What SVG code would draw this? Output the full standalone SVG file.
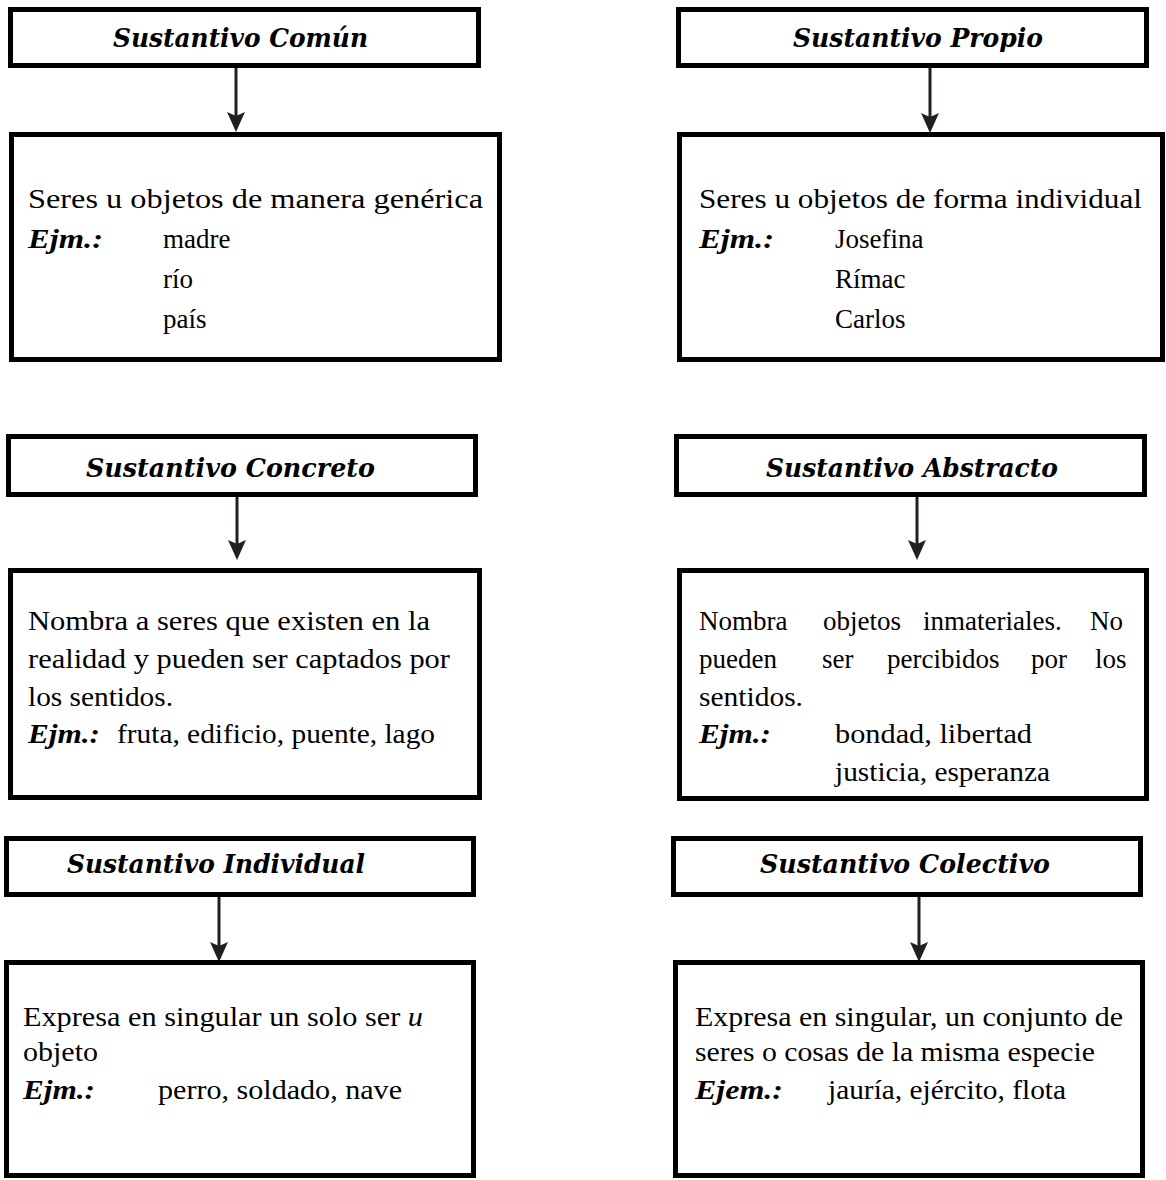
<svg xmlns="http://www.w3.org/2000/svg" width="1166" height="1180" viewBox="0 0 1166 1180">
<style>
.box{fill:#fff;stroke:#000;stroke-width:5}
.hd{font-family:"DejaVu Serif","Liberation Serif",serif;font-weight:bold;font-style:italic;font-size:26px;fill:#000}
.tx{font-family:"Liberation Serif",serif;font-size:27px;fill:#000}
.ej{font-family:"Liberation Serif",serif;font-weight:bold;font-style:italic;font-size:27px;fill:#000}
.conn{stroke:#231f20;stroke-width:3;fill:none;marker-end:url(#ah)}
</style>
<defs>
<marker id="ah" markerUnits="userSpaceOnUse" markerWidth="20" markerHeight="20" viewBox="0 0 20 20" refX="14" refY="10" orient="auto">
<path d="M0,1 L20,10 L0,19 L4,10 Z" fill="#231f20"/>
</marker>
</defs>

<g id="connectors">
<line class="conn" x1="236" y1="68" x2="236" y2="126"/>
<line class="conn" x1="930" y1="68" x2="930" y2="127"/>
<line class="conn" x1="237" y1="497" x2="237" y2="554"/>
<line class="conn" x1="917" y1="497" x2="917" y2="554"/>
<line class="conn" x1="219" y1="897" x2="219" y2="956"/>
<line class="conn" x1="919" y1="897" x2="919" y2="956"/>
</g>

<g id="comun-head">
<rect class="box" x="10.5" y="9.5" width="468" height="56"/>
<text class="hd" x="113" y="47" textLength="255" lengthAdjust="spacingAndGlyphs">Sustantivo Común</text>
</g>
<g id="comun-body">
<rect class="box" x="11.5" y="134.5" width="488" height="225"/>
<text class="tx" x="28" y="208" textLength="455" lengthAdjust="spacingAndGlyphs">Seres u objetos  de manera genérica</text>
<text class="ej" x="28" y="248" textLength="75" lengthAdjust="spacingAndGlyphs">Ejm.:</text>
<text class="tx" x="163" y="248">madre</text>
<text class="tx" x="163" y="288">río</text>
<text class="tx" x="163" y="328">país</text>
</g>

<g id="propio-head">
<rect class="box" x="678.5" y="9.5" width="468" height="56"/>
<text class="hd" x="793" y="47" textLength="250" lengthAdjust="spacingAndGlyphs">Sustantivo Propio</text>
</g>
<g id="propio-body">
<rect class="box" x="679.5" y="134.5" width="483" height="225"/>
<text class="tx" x="699" y="208" textLength="443" lengthAdjust="spacingAndGlyphs">Seres u objetos de forma individual</text>
<text class="ej" x="699" y="248" textLength="75" lengthAdjust="spacingAndGlyphs">Ejm.:</text>
<text class="tx" x="835" y="248">Josefina</text>
<text class="tx" x="835" y="288">Rímac</text>
<text class="tx" x="835" y="328">Carlos</text>
</g>

<g id="concreto-head">
<rect class="box" x="8.5" y="436.5" width="467" height="58"/>
<text class="hd" x="86" y="477" textLength="289" lengthAdjust="spacingAndGlyphs">Sustantivo Concreto</text>
</g>
<g id="concreto-body">
<rect class="box" x="10.5" y="570.5" width="469" height="227"/>
<text class="tx" x="28" y="630" textLength="402" lengthAdjust="spacingAndGlyphs">Nombra a seres que existen  en la</text>
<text class="tx" x="28" y="668" textLength="422" lengthAdjust="spacingAndGlyphs">realidad y pueden ser captados por</text>
<text class="tx" x="28" y="706" textLength="145" lengthAdjust="spacingAndGlyphs">los sentidos.</text>
<text class="ej" x="28" y="743" textLength="72" lengthAdjust="spacingAndGlyphs">Ejm.:</text>
<text class="tx" x="117" y="743" textLength="318" lengthAdjust="spacingAndGlyphs">fruta, edificio, puente, lago</text>
</g>

<g id="abstracto-head">
<rect class="box" x="676.5" y="436.5" width="468" height="58"/>
<text class="hd" x="766" y="477" textLength="292" lengthAdjust="spacingAndGlyphs">Sustantivo Abstracto</text>
</g>
<g id="abstracto-body">
<rect class="box" x="679.5" y="570.5" width="467" height="228"/>
<text class="tx" y="630"><tspan x="699">Nombra</tspan><tspan x="823">objetos</tspan><tspan x="923">inmateriales.</tspan><tspan x="1090">No</tspan></text>
<text class="tx" y="668"><tspan x="699">pueden</tspan><tspan x="822">ser</tspan><tspan x="887">percibidos</tspan><tspan x="1031">por</tspan><tspan x="1095">los</tspan></text>
<text class="tx" x="699" y="706" textLength="104" lengthAdjust="spacingAndGlyphs">sentidos.</text>
<text class="ej" x="699" y="743" textLength="72" lengthAdjust="spacingAndGlyphs">Ejm.:</text>
<text class="tx" x="835" y="743" textLength="197" lengthAdjust="spacingAndGlyphs">bondad, libertad</text>
<text class="tx" x="835" y="781" textLength="215" lengthAdjust="spacingAndGlyphs">justicia, esperanza</text>
</g>

<g id="individual-head">
<rect class="box" x="6.5" y="838.5" width="467" height="56"/>
<text class="hd" x="67" y="873" textLength="298" lengthAdjust="spacingAndGlyphs">Sustantivo Individual</text>
</g>
<g id="individual-body">
<rect class="box" x="6.5" y="962.5" width="467" height="213"/>
<text class="tx" x="23" y="1026" textLength="400" lengthAdjust="spacingAndGlyphs">Expresa en singular un solo ser  <tspan font-style="italic">u</tspan></text>
<text class="tx" x="23" y="1061" textLength="75" lengthAdjust="spacingAndGlyphs">objeto</text>
<text class="ej" x="23" y="1099" textLength="72" lengthAdjust="spacingAndGlyphs">Ejm.:</text>
<text class="tx" x="158" y="1099" textLength="244" lengthAdjust="spacingAndGlyphs">perro, soldado, nave</text>
</g>

<g id="colectivo-head">
<rect class="box" x="673.5" y="838.5" width="467" height="56"/>
<text class="hd" x="760" y="873" textLength="290" lengthAdjust="spacingAndGlyphs">Sustantivo Colectivo</text>
</g>
<g id="colectivo-body">
<rect class="box" x="675.5" y="962.5" width="467" height="213"/>
<text class="tx" x="695" y="1026" textLength="428" lengthAdjust="spacingAndGlyphs">Expresa en singular, un conjunto de</text>
<text class="tx" x="695" y="1061" textLength="400" lengthAdjust="spacingAndGlyphs">seres o cosas de la misma especie</text>
<text class="ej" x="695" y="1099" textLength="88" lengthAdjust="spacingAndGlyphs">Ejem.:</text>
<text class="tx" x="828" y="1099" textLength="238" lengthAdjust="spacingAndGlyphs">jauría, ejército, flota</text>
</g>
</svg>
